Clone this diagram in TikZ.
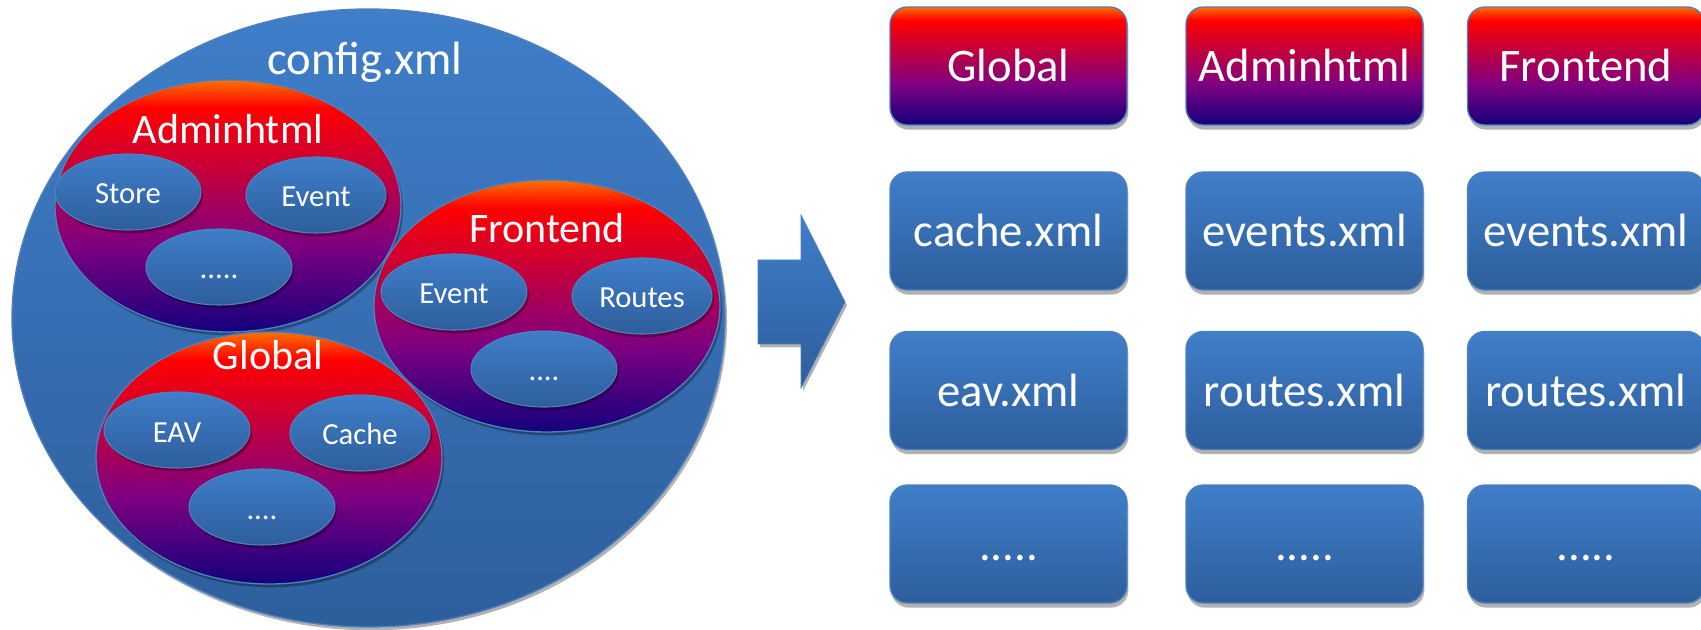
\documentclass[tikz,border=0pt]{standalone}
\usepackage{fontspec}
\setmainfont{Carlito}
\usetikzlibrary{shapes.geometric,shadows}
\definecolor{bltop}{RGB}{63,126,201}
\definecolor{blbot}{RGB}{46,94,156}
\definecolor{rporange}{RGB}{255,112,0}
\definecolor{rpred}{RGB}{255,0,0}
\definecolor{rppurple}{RGB}{128,0,128}
\definecolor{rpnavy}{RGB}{20,0,125}
\definecolor{bord}{RGB}{79,129,189}
\pgfdeclareverticalshading{blueshade}{100bp}{color(0bp)=(blbot); color(25bp)=(blbot); color(75bp)=(bltop); color(100bp)=(bltop)}
\pgfdeclareverticalshading{redshade}{100bp}{color(0bp)=(rpnavy); color(25bp)=(rpnavy); color(42.5bp)=(rppurple); color(69.5bp)=(rpred); color(75bp)=(rporange); color(100bp)=(rporange)}
\tikzset{
  shadowed/.style={drop shadow={shadow xshift=1.5pt, shadow yshift=-2.5pt, opacity=0.3, fill=black}},
  bigell/.style={ellipse, inner sep=0pt, draw=bord, line width=1pt, shading=blueshade, shadowed,
    minimum width=534.75pt, minimum height=463.5pt},
  midell/.style={ellipse, inner sep=0pt, draw=bord, line width=1pt, shading=redshade, shadowed,
    minimum width=259.5pt, minimum height=189pt},
  smallell/.style={ellipse, inner sep=0pt, draw=bord, line width=0.8pt, shading=blueshade, shadowed,
    minimum height=57pt, text=white, font=\fontsize{23}{27}\selectfont, text height=18pt, text depth=0pt},
  wide/.style={minimum width=109.5pt},
  narrow/.style={minimum width=105pt},
  biglabel/.style={anchor=base, inner sep=0pt, text=white, font=\fontsize{35}{42}\selectfont},
  medlabel/.style={anchor=base, inner sep=0pt, text=white, font=\fontsize{31.5}{38}\selectfont},
  filebox/.style={rectangle, rounded corners=13pt, minimum width=177.75pt, minimum height=88.5pt,
    inner sep=0pt, draw=bord, line width=1pt,
    drop shadow={shadow xshift=1pt, shadow yshift=-3.5pt, opacity=0.3, fill=black},
    text=white, font=\fontsize{35}{42}\selectfont, text height=24pt, text depth=0pt},
  bluebox/.style={filebox, shading=blueshade},
  redbox/.style={filebox, shading=redshade},
}
\begin{document}
\begin{tikzpicture}[x=0.75pt, y=-0.75pt]
\useasboundingbox (0,0) rectangle (1701,630);
\fill[white] (0,0) rectangle (1701,630);
\clip (0,0) rectangle (1701,630);

% big config.xml ellipse
\node[bigell] (config) at (368.5,318) {};
\node[biglabel] (configlbl) at (365,75) {config.xml};

% Adminhtml
\node[midell] (admin) at (228,206) {};
\node[medlabel] (adminlbl) at (228,144) {Adminhtml};
\node[smallell, wide] (astore) at (128,192) {Store};
\node[smallell, narrow] (aevent) at (316,195) {Event};
\node[smallell, wide] (adots) at (219,267) {.....};

% Frontend
\node[midell] (front) at (547,306) {};
\node[medlabel] (frontlbl) at (547,243) {Frontend};
\node[smallell, wide] (fevent) at (454,292) {Event};
\node[smallell, narrow] (froutes) at (642,296) {Routes};
\node[smallell, wide] (fdots) at (544,369) {....};

% Global
\node[midell] (global) at (269,458) {};
\node[medlabel] (globallbl) at (268,370) {Global};
\node[smallell, wide] (geav) at (177,430) {EAV};
\node[smallell, narrow] (gcache) at (360,433) {Cache};
\node[smallell, wide] (gdots) at (262,507) {....};

% block arrow
\path[shading=blueshade, draw=bord, line width=0.5pt, shadowed]
  (758,260) -- (801,260) -- (801,215) -- (845,302) -- (801,388) -- (801,344) -- (758,344) -- cycle;

% file boxes
\node[redbox]  (bglobal) at (1008.5,66) {Global};
\node[redbox]  (badmin)  at (1304.5,66) {Adminhtml};
\node[redbox]  (bfront)  at (1586,66)   {Frontend};
\node[bluebox] (bcache)  at (1008.5,231) {cache.xml};
\node[bluebox] (baevents) at (1304.5,231) {events.xml};
\node[bluebox] (bfevents) at (1586,231)   {events.xml};
\node[bluebox] (beav)    at (1008.5,390.5) {eav.xml};
\node[bluebox] (baroutes) at (1304.5,390.5) {routes.xml};
\node[bluebox] (bfroutes) at (1586,390.5)   {routes.xml};
\node[bluebox] (bgdots)  at (1008.5,544) {.....};
\node[bluebox] (badots)  at (1304.5,544) {.....};
\node[bluebox] (bfdots)  at (1586,544)   {.....};
\end{tikzpicture}
\end{document}
